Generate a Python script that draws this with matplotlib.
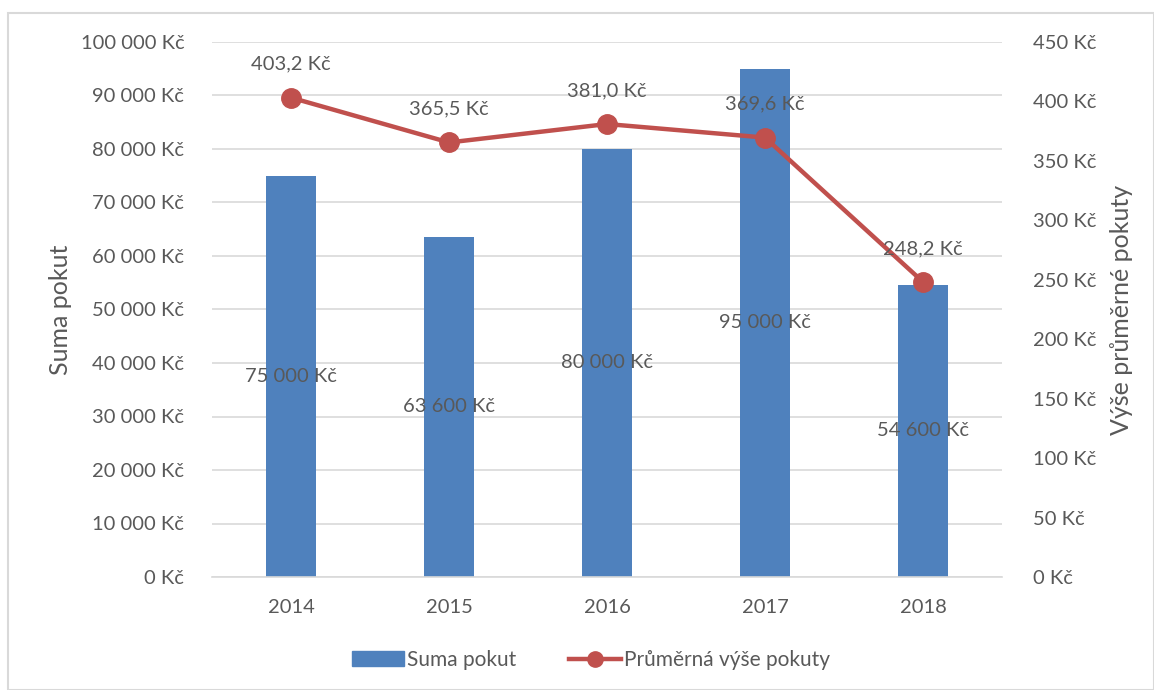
import numpy as np
import matplotlib.pyplot as plt
from matplotlib.patches import Rectangle
from matplotlib.lines import Line2D

plt.rcParams['font.family'] = ['Lato', 'DejaVu Sans']

years = ['2014', '2015', '2016', '2017', '2018']
suma_pokut = [75000, 63600, 80000, 95000, 54600]
prumer_pokuty = [403.2, 365.5, 381.0, 369.6, 248.2]

blue = '#4F81BD'
red = '#C0504D'
txt = '#595959'
grid = '#D9D9D9'
fs = 14.5


def kc_int(v):
    return '{:,.0f} Kč'.format(v).replace(',', ' ')


def kc_dec(v):
    return '{:.1f} Kč'.format(v).replace('.', ',')


fig = plt.figure(figsize=(11.54, 6.9), dpi=100)
ax = fig.add_axes([212 / 1154, 1 - 577 / 690, 790 / 1154, 535 / 690])
ax2 = ax.twinx()

x = np.arange(len(years))
ax.bar(x, suma_pokut, width=0.316, color=blue, zorder=2)
ax.set_xlim(-0.5, len(years) - 0.5)
ax.set_ylim(0, 100000)
ax.set_yticks(np.arange(0, 100001, 10000))
ax.set_yticklabels([kc_int(v) for v in np.arange(0, 100001, 10000)])
ax.grid(axis='y', color=grid, lw=1.2, zorder=0)
ax.set_xticks(x)
ax.set_xticklabels(years)
for i, v in enumerate(suma_pokut):
    ax.text(i, v / 2, kc_int(v), ha='center', va='center', fontsize=fs, color=txt, zorder=5)

ax2.plot(x, prumer_pokuty, color=red, lw=3.2, marker='o', markersize=14, zorder=3)
ax2.set_ylim(0, 450)
ax2.set_yticks(np.arange(0, 451, 50))
ax2.set_yticklabels([kc_int(v) for v in np.arange(0, 451, 50)])
for i, v in enumerate(prumer_pokuty):
    ax2.annotate(kc_dec(v), (i, v), xytext=(0, 18), textcoords='offset points',
                 ha='center', va='bottom', fontsize=fs, color=txt)

for a in (ax, ax2):
    for s in a.spines.values():
        s.set_visible(False)
    a.tick_params(length=0, labelsize=fs, colors=txt)
ax.spines['bottom'].set_visible(True)
ax.spines['bottom'].set_color(grid)
ax.spines['bottom'].set_linewidth(1.2)
ax.tick_params(axis='y', pad=20)
ax.tick_params(axis='x', pad=16)
ax2.tick_params(axis='y', pad=22)

ax.set_ylabel('Suma pokut', fontsize=18, color=txt, labelpad=6)
ax2.set_ylabel('Výše průměrné pokuty', fontsize=18, color=txt, labelpad=10)

handles = [Rectangle((0, 0), 1, 1, color=blue),
           Line2D([], [], color=red, lw=3.2, marker='o', markersize=11)]
fig.legend(handles, ['Suma pokut', 'Průměrná výše pokuty'], loc='center',
           bbox_to_anchor=(0.512, 1 - 660 / 690), ncol=2, frameon=False,
           fontsize=15, labelcolor=txt, handlelength=2.5, handletextpad=0.15,
           columnspacing=2.5)

fig.patches.append(Rectangle((8 / 1154, 0), 1 - 8 / 1154, 1 - 13 / 690, transform=fig.transFigure,
                             fill=False, edgecolor=grid, lw=1.5))

plt.savefig('out.png', dpi=100)
